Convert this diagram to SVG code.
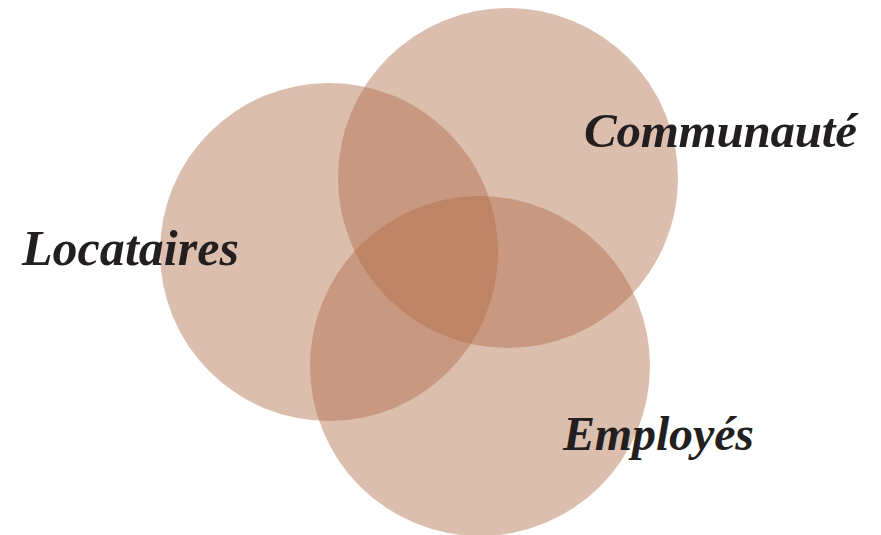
<svg xmlns="http://www.w3.org/2000/svg" width="881" height="535" viewBox="0 0 881 535">
<style>
.c{fill:#ae6843;fill-opacity:0.43}
.t{font-family:"Liberation Serif","Times New Roman",serif;font-weight:bold;font-style:italic;font-size:48px;fill:#231f20}
</style>
<rect width="881" height="535" fill="#ffffff"/>
<g id="locataires"><circle class="c" cx="329" cy="252" r="169"/><text class="t" x="22" y="265" style="font-size:50px" textLength="217" lengthAdjust="spacing">Locataires</text></g>
<g id="communaute"><circle class="c" cx="508" cy="178" r="170"/><text class="t" x="584" y="147" style="font-size:49px" textLength="273" lengthAdjust="spacing">Communauté</text></g>
<g id="employes"><circle class="c" cx="480" cy="366" r="170"/><text class="t" x="563" y="450" textLength="191" lengthAdjust="spacing">Employés</text></g>
<g id="connectors"></g>
</svg>
